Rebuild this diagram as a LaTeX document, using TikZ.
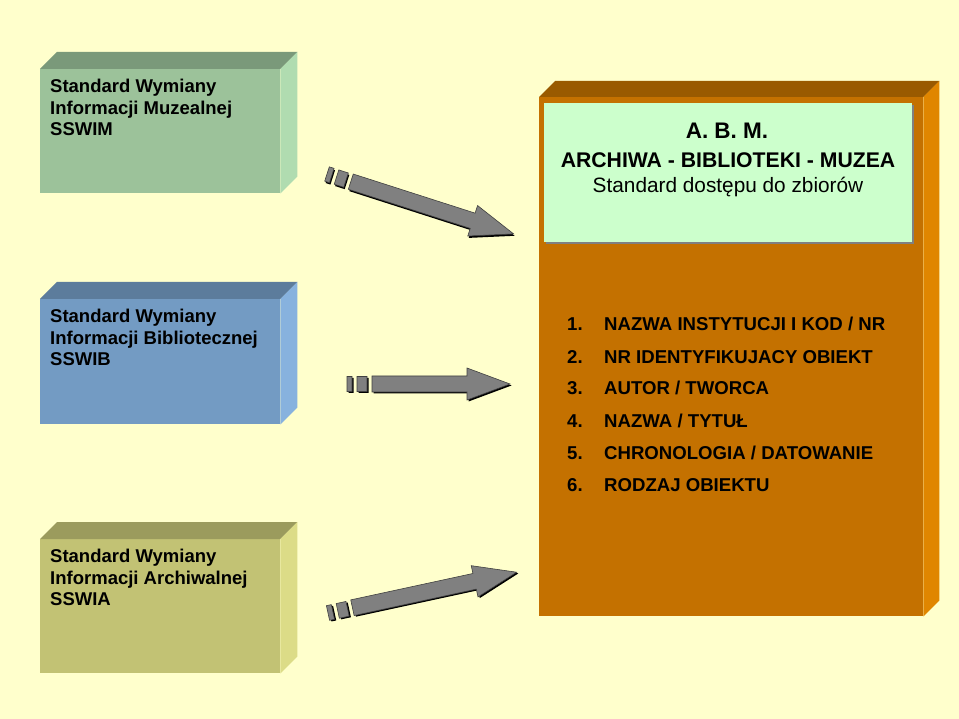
\documentclass[tikz,border=0pt]{standalone}
\usepackage{fontspec}
\setmainfont{Liberation Sans}
\definecolor{bgyellow}{HTML}{FFFFCC}
\definecolor{musfront}{HTML}{9CC29A}
\definecolor{mustop}{HTML}{7A997A}
\definecolor{musside}{HTML}{B0DCB0}
\definecolor{libfront}{HTML}{739BC3}
\definecolor{libtop}{HTML}{5C7C9C}
\definecolor{libside}{HTML}{87B2DE}
\definecolor{arcfront}{HTML}{C2C274}
\definecolor{arctop}{HTML}{9B9B5D}
\definecolor{arcside}{HTML}{DCDC87}
\definecolor{abmfront}{HTML}{C47100}
\definecolor{abmtop}{HTML}{995A00}
\definecolor{abmside}{HTML}{E08600}
\definecolor{abminner}{HTML}{CCFFCC}
\definecolor{arrowgray}{HTML}{808080}
% top and side faces of a box: node, depth, top colour, side colour
\newcommand{\boxfaces}[4]{%
  \fill[#3] (#1.north west) -- ([shift={(#2,-#2)}]#1.north west)
    -- ([shift={(#2,-#2)}]#1.north east) -- (#1.north east) -- cycle;
  \fill[#4] (#1.north east) -- ([shift={(#2,-#2)}]#1.north east)
    -- ([shift={(#2,-#2)}]#1.south east) -- (#1.south east) -- cycle;
}
\begin{document}
\begin{tikzpicture}[x=1pt,y=-1pt]
\tikzset{
  slab/.style={rectangle, inner sep=0pt, anchor=north west},
  slabtext/.style={anchor=north west, inner sep=0pt, align=left,
    font=\fontsize{18.5}{21.5}\selectfont\bfseries},
  listtext/.style={anchor=base west, inner sep=0pt,
    font=\fontsize{18.6}{20}\selectfont\bfseries},
  pics/blockarrow/.style={code={
    % shadow
    \begin{scope}[shift={(1.5,1.5)}]
      \fill[black] (0,-7.5) rectangle (5,7.5) (10,-7.5) rectangle (20,7.5)
        (25,-8) -- (#1-43,-8) -- (#1-43,-16) -- (#1,0) -- (#1-43,16)
        -- (#1-43,8) -- (25,8) -- cycle;
    \end{scope}
    \filldraw[fill=arrowgray, draw=black!75, line width=0.6pt]
      (0,-7.5) rectangle (5,7.5) (10,-7.5) rectangle (20,7.5)
      (25,-8) -- (#1-43,-8) -- (#1-43,-16) -- (#1,0) -- (#1-43,16)
      -- (#1-43,8) -- (25,8) -- cycle;
  }}
}
% background
\fill[bgyellow] (0,0) rectangle (959,719);
\useasboundingbox (0,0) rectangle (959,719);

% the three standards
\node[slab, fill=musfront, minimum width=240pt, minimum height=124pt] (sswim) at (40,69) {};
\boxfaces{sswim}{17}{mustop}{musside}
\node[slabtext] (sswimtext) at (50,79) {Standard Wymiany\\Informacji Muzealnej\\SSWIM};

\node[slab, fill=libfront, minimum width=240pt, minimum height=125pt] (sswib) at (40,299) {};
\boxfaces{sswib}{17}{libtop}{libside}
\node[slabtext] (sswibtext) at (50,309) {Standard Wymiany\\Informacji Bibliotecznej\\SSWIB};

\node[slab, fill=arcfront, minimum width=240pt, minimum height=134pt] (sswia) at (40,539) {};
\boxfaces{sswia}{17}{arctop}{arcside}
\node[slabtext] (sswiatext) at (50,549) {Standard Wymiany\\Informacji Archiwalnej\\SSWIA};

% A. B. M.
\node[slab, fill=abmfront, minimum width=384pt, minimum height=519pt] (abm) at (539,97) {};
\boxfaces{abm}{16}{abmtop}{abmside}
\fill[gray] (546,105) rectangle (914,244);
\node[slab, fill=abminner, minimum width=368pt, minimum height=139pt] (abmhead) at (544,103) {};
\node[anchor=base, inner sep=0pt, font=\fontsize{22.5}{24}\selectfont\bfseries] (abmtitle) at (727,139) {A. B. M.};
\node[anchor=base, inner sep=0pt, font=\fontsize{21.2}{24}\selectfont\bfseries] (abmnames) at (728,168) {ARCHIWA - BIBLIOTEKI - MUZEA};
\node[anchor=base, inner sep=0pt, font=\fontsize{20.8}{24}\selectfont] (abmsub) at (728,193) {Standard dostępu do zbiorów};

% the list of fields
\foreach \i/\t in {1/{NAZWA INSTYTUCJI I KOD / NR},2/{NR IDENTYFIKUJACY OBIEKT},
    3/{AUTOR / TWORCA},4/{NAZWA / TYTUŁ},5/{CHRONOLOGIA / DATOWANIE},6/{RODZAJ OBIEKTU}} {
  \node[listtext] (num\i) at (567,{331+(\i-1)*32}) {\i.};
  \node[listtext] (item\i) at (604,{331+(\i-1)*32}) {\t};
}

% arrows
\coordinate (from1) at (327,174);
\coordinate (from2) at (347,384);
\coordinate (from3) at (328,613);
\pic[rotate=-17.8] at (from1) {blockarrow=196};
\pic at (from2) {blockarrow=163};
\pic[rotate=12.2] at (from3) {blockarrow=193};
\end{tikzpicture}
\end{document}
